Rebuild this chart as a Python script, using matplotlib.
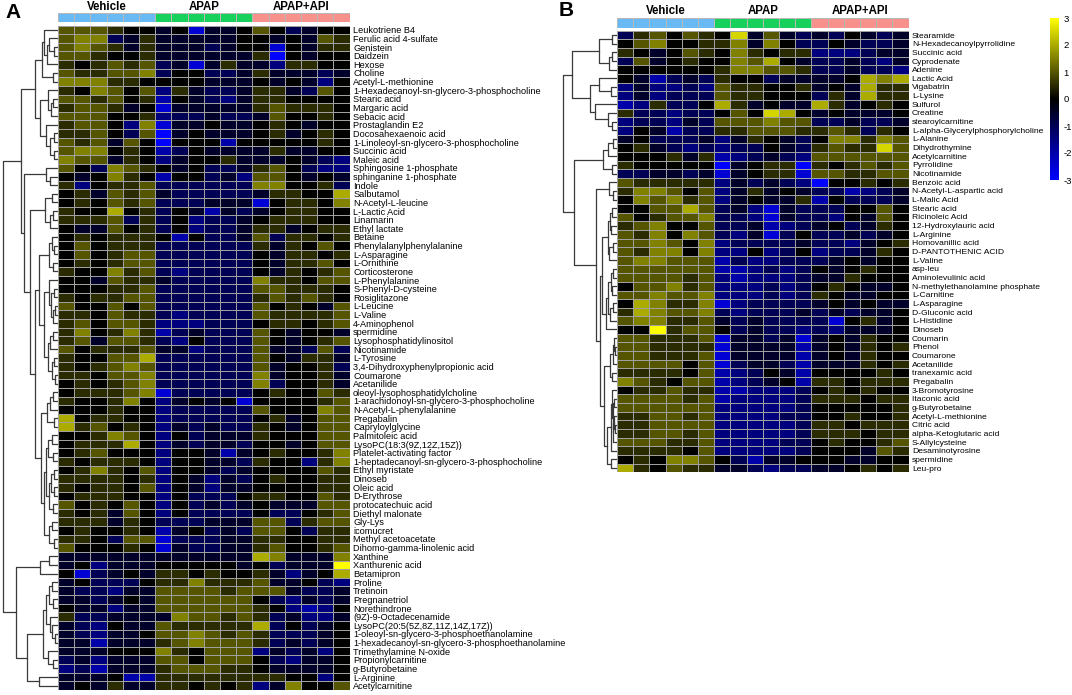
import numpy as np
import matplotlib
matplotlib.use("Agg")
import matplotlib.pyplot as plt
from matplotlib.colors import LinearSegmentedColormap, ListedColormap
from matplotlib.cm import ScalarMappable
from matplotlib.colors import Normalize

plt.rcParams['font.family'] = ['Liberation Sans', 'DejaVu Sans']
plt.rcParams['axes.unicode_minus'] = False

W, H = 1072, 695

groups = ["Vehicle", "APAP", "APAP+API"]
group_colors = ["#68b9f4", "#17d15c", "#f6918b"]

# cell value codes: 0 = -3 ... 6 = 0 ... C = +3 (steps of 0.5)
levels = "0123456789ABC"

# ---------------- panel A ----------------
labels_a = [
    "Leukotriene B4", "Ferulic acid 4-sulfate", "Genistein", "Daidzein", "Hexose",
    "Choline", "Acetyl-L-methionine", "1-Hexadecanoyl-sn-glycero-3-phosphocholine",
    "Stearic acid", "Margaric acid", "Sebacic acid", "Prostaglandin E2",
    "Docosahexaenoic acid", "1-Linoleoyl-sn-glycero-3-phosphocholine", "Succinic acid",
    "Maleic acid", "Sphingosine 1-phosphate", "sphinganine 1-phosphate", "Indole",
    "Salbutamol", "N-Acetyl-L-leucine", "L-Lactic Acid", "Linamarin", "Ethyl lactate",
    "Betaine", "Phenylalanylphenylalanine", "L-Asparagine", "L-Ornithine",
    "Corticosterone", "L-Phenylalanine", "S-Phenyl-D-cysteine", "Rosiglitazone",
    "L-Leucine", "L-Valine", "4-Aminophenol", "spermidine", "Lysophosphatidylinositol",
    "Nicotinamide", "L-Tyrosine", "3,4-Dihydroxyphenylpropionic acid", "Coumarone",
    "Acetanilide", "oleoyl-lysophosphatidylcholine",
    "1-arachidonoyl-sn-glycero-3-phosphocholine", "N-Acetyl-L-phenylalanine",
    "Pregabalin", "Capryloylglycine", "Palmitoleic acid", "LysoPC(18:3(9Z,12Z,15Z))",
    "Platelet-activating factor", "1-heptadecanoyl-sn-glycero-3-phosphocholine",
    "Ethyl myristate", "Dinoseb", "Oleic acid", "D-Erythrose", "protocatechuic acid",
    "Diethyl malonate", "Gly-Lys", "icomucret", "Methyl acetoacetate",
    "Dihomo-gamma-linolenic acid", "Xanthine", "Xanthurenic acid", "Betamipron",
    "Proline", "Tretinoin", "Pregnanetriol", "Norethindrone", "(9Z)-9-Octadecenamide",
    "LysoPC(20:5(5Z,8Z,11Z,14Z,17Z))", "1-oleoyl-sn-glycero-3-phosphoethanolamine",
    "1-hexadecanoyl-sn-glycero-3-phosphoethanolamine", "Trimethylamine N-oxide",
    "Propionylcarnitine", "g-Butyrobetaine", "L-Arginine", "Acetylcarnitine",
]

cells_a = [
    "888766 561556 864566", "899457 555556 656587", "898757 555456 616577",
    "887667 555555 706566", "767878 451575 537766", "877889 466445 755545",
    "999776 666555 656536", "769868 375445 775486", "887867 265435 776666",
    "788756 155555 787776", "888667 344544 586676", "788639 155655 676566",
    "778648 056555 675676", "878586 066626 666676", "899676 246555 575566",
    "988576 356675 556543", "864987 656445 786433", "656976 266453 886565",
    "736778 444444 996674", "675878 544444 57766A", "676878 444555 167769",
    "766A67 465254 567766", "777847 463445 677766", "655867 463445 775677",
    "676777 626445 847767", "686777 444444 757686", "686788 444444 657767",
    "676788 444444 657786", "766978 434444 657678", "665877 544444 977688",
    "666778 444444 887776", "767788 444444 787876", "866868 444444 867658",
    "776877 434444 877778", "786887 333444 677678", "796797 245444 865665",
    "785887 436444 865678", "867778 553444 855484", "76688A 444444 865775",
    "767898 444444 856674", "776889 444444 956675", "676789 444444 946675",
    "677789 144444 676687", "766796 356561 666678", "666766 344444 866698",
    "A67766 344444 675688", "A78676 354544 765688", "667986 364555 766688",
    "6777A6 354554 665688", "678666 366525 676679", "767776 366554 766379",
    "679768 366545 666687", "777767 365354 676677", "767768 365355 666677",
    "677766 364446 776687", "867686 364545 655588", "767586 364444 644678",
    "777576 444555 884788", "676676 256454 886477", "776488 144455 776677",
    "866676 154455 786678", "555555 555555 A95559", "563555 666665 64555C",
    "614565 776766 75356A", "564446 779777 855643", "544355 888878 885445",
    "554565 888888 643545", "655355 888888 763236", "744555 598878 745335",
    "543655 877777 A46456", "543556 889878 744456", "552555 789888 745456",
    "555666 976888 354536", "453555 886888 643556", "342555 788877 655556",
    "555622 777777 776636", "565755 776767 359668",
]

# merge height (px) between neighbouring rows
gaps_a = [
    14, 9, 4, 11, 16, 5, 23, 10, 5, 7,
    18, 12, 4, 8, 4, 37, 12, 8, 34, 6,
    13, 5, 8, 28, 6, 4, 9, 5, 19, 9,
    4, 7, 3, 5, 14, 5, 8, 10, 4, 6,
    3, 23, 5, 8, 11, 4, 17, 6, 10, 5,
    12, 4, 7, 4, 9, 5, 14, 6, 9, 4,
    55, 9, 18, 42, 6, 9, 5, 12, 8, 6,
    3, 15, 10, 5, 31, 19,
]

# ---------------- panel B ----------------
labels_b = [
    "Stearamide", "N-Hexadecanoylpyrrolidine", "Succinic acid", "Cyprodenate", "Adenine",
    "Lactic Acid", "Vigabatrin", "L-Lysine", "Sulfurol", "Creatine", "stearoylcarnitine",
    "L-alpha-Glycerylphosphorylcholine", "L-Alanine", "Dihydrothymine", "Acetylcarnitine",
    "Pyrrolidine", "Nicotinamide", "Benzoic acid", "N-Acetyl-L-aspartic acid",
    "L-Malic Acid", "Stearic acid", "Ricinoleic Acid", "12-Hydroxylauric acid",
    "L-Arginine", "Homovanillic acid", "D-PANTOTHENIC ACID", "L-Valine", "asp-leu",
    "Aminolevulinic acid", "N-methylethanolamine phosphate", "L-Carnitine",
    "L-Asparagine", "D-Gluconic acid", "L-Histidine", "Dinoseb", "Coumarin", "Phenol",
    "Coumarone", "Acetanilide", "tranexamic acid", "Pregabalin", "3-Bromotyrosine",
    "Itaconic acid", "g-Butyrobetaine", "Acetyl-L-methionine", "Citric acid",
    "alpha-Ketoglutaric acid", "S-Allylcysteine", "Desaminotyrosine", "spermidine",
    "Leu-pro",
]

cells_b = [
    "478687 6B5854 546545", "689667 795964 465445", "765687 697677 333455",
    "485676 698A65 445435", "666666 799887 445443", "652454 766455 556A9A",
    "353343 877667 565A77", "353444 877666 475A77", "237446 A75655 A75676",
    "744344 686BA6 565556", "344354 888988 445445", "365244 778887 787476",
    "564445 357654 699798", "675434 344654 7877B8", "666757 234543 888888",
    "766666 056770 767878", "445545 156771 887788", "877777 354543 066767",
    "799868 357565 442345", "698978 356557 264445", "6688A8 453154 446686",
    "867889 443154 436586", "789668 445234 564576", "879698 435146 445456",
    "889869 344445 443567", "879969 336346 344576", "899888 243344 456566",
    "888888 223434 656766", "888878 323334 557666", "688978 333434 676556",
    "889889 333434 765566", "6A9779 134444 565655", "7A9889 434445 454556",
    "899778 545444 416756", "66C788 645443 435556", "887778 155451 565766",
    "887777 155552 565767", "887778 155552 565766", "888868 145542 555767",
    "777768 234652 666676", "987688 234562 776777", "677877 223334 676766",
    "888878 233334 777677", "888888 333334 666667", "778878 333344 667667",
    "778888 333334 776777", "778878 333334 777677", "888778 333344 676678",
    "777768 333334 666587", "676998 642556 665566", "A76877 554344 556767",
]

gaps_b = [
    5, 18, 5, 8, 45, 18, 6, 27, 22, 9,
    5, 54, 4, 9, 14, 5, 43, 8, 4, 21,
    5, 7, 6, 9, 4, 8, 15, 4, 6, 5,
    9, 4, 7, 11, 17, 3, 2, 4, 7, 5,
    13, 5, 3, 4, 3, 2, 4, 6, 10, 6,
]

cbar_ticks = [-3, -2, -1, 0, 1, 2, 3]

cmap = LinearSegmentedColormap.from_list("byk", ["#0000ff", "#000000", "#ffff00"])


def decode(rows):
    return np.array([[(levels.index(c) - 6) * 0.5 for c in r.replace(" ", "")] for r in rows])


def px_axes(fig, x0, y0, x1, y1):
    return fig.add_axes([x0 / W, 1 - y1 / H, (x1 - x0) / W, (y1 - y0) / H])


def draw_dendro(ax, gaps):
    def build(lo, hi):
        if lo == hi:
            return lo + 0.5, 0.0
        k = lo + int(np.argmax(gaps[lo:hi]))
        y1, h1 = build(lo, k)
        y2, h2 = build(k + 1, hi)
        g = gaps[k]
        ax.plot([h1, g, g, h2], [y1, y1, y2, y2], color="#3a3a3a", lw=0.9)
        return (y1 + y2) / 2, g
    build(0, len(gaps))


def panel(fig, letter, labels, cells, gaps, x0, y0, rh, bar_y, letter_xy, label_size):
    n = len(labels)
    vals = decode(cells)
    cw = 16.2
    x1 = x0 + 18 * cw
    y1 = y0 + n * rh

    ax = px_axes(fig, x0, y0, x1, y1)
    ax.pcolormesh(vals, cmap=cmap, vmin=-3, vmax=3, edgecolors="#a0a0a0", linewidth=0.7)
    ax.set_xlim(0, 18)
    ax.set_ylim(n, 0)
    ax.set_xticks([])
    ax.set_yticks(np.arange(n) + 0.5, labels)
    ax.yaxis.tick_right()
    ax.tick_params(axis="y", length=0, pad=2.5, labelsize=label_size)
    for s in ax.spines.values():
        s.set_visible(False)

    # dendrogram
    dax = px_axes(fig, x0 - 56, y0, x0, y1)
    draw_dendro(dax, gaps)
    dax.set_xlim(56, 0)
    dax.set_ylim(n, 0)
    dax.axis("off")

    # group colour bar
    bax = px_axes(fig, x0, bar_y[0], x1, bar_y[1])
    gid = np.repeat(np.arange(3), 6)[None, :]
    bax.pcolormesh(gid, cmap=ListedColormap(group_colors), vmin=-0.5, vmax=2.5,
                   edgecolors="#b8b8b8", linewidth=0.7)
    bax.set_xlim(0, 18)
    bax.set_ylim(1, 0)
    bax.axis("off")
    for i, g in enumerate(groups):
        bax.text(3 + 6 * i, -0.36, g, ha="center", va="baseline",
                 fontsize=8.3, fontweight="bold")

    fig.text(letter_xy[0] / W, 1 - letter_xy[1] / H, letter, fontsize=15,
             fontweight="bold", ha="left", va="center")


fig = plt.figure(figsize=(W / 100, H / 100), dpi=100)

panel(fig, "A", labels_a, cells_a, gaps_a, 58, 25.5, 8.63, (13, 22), (5, 12), 6.6)
panel(fig, "B", labels_b, cells_b, gaps_b, 617, 30.7, 8.66, (18, 28), (559, 11), 6.1)

# colour bar
cax = px_axes(fig, 1050, 18, 1059, 180)
cb = fig.colorbar(ScalarMappable(norm=Normalize(-3, 3), cmap=cmap), cax=cax, ticks=cbar_ticks)
cb.outline.set_visible(False)
cax.tick_params(length=0, labelsize=6.8, pad=3)

fig.savefig("out.png", dpi=100)
